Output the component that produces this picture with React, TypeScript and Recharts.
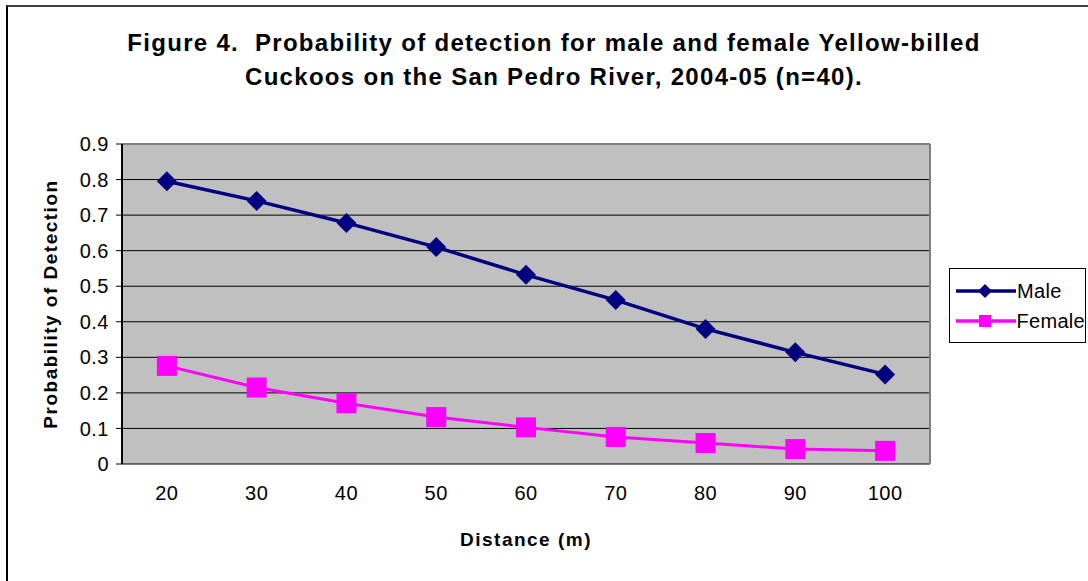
import {
  LineChart,
  Line,
  XAxis,
  YAxis,
  CartesianGrid,
  ReferenceLine,
  Label,
} from "recharts";

const distances = [20, 30, 40, 50, 60, 70, 80, 90, 100];
const male = [0.795, 0.74, 0.678, 0.61, 0.532, 0.461, 0.38, 0.314, 0.252];
const female = [0.276, 0.215, 0.171, 0.132, 0.103, 0.076, 0.059, 0.042, 0.037];
const yTicks = [0, 0.1, 0.2, 0.3, 0.4, 0.5, 0.6, 0.7, 0.8, 0.9];
// Excel puts the category tick marks between the categories
const boundaryTicks = [15, 25, 35, 45, 55, 65, 75, 85, 95, 105];

const data = distances.map((d, i) => ({
  distance: d,
  Male: male[i],
  Female: female[i],
}));

const FONT = '"Liberation Sans", Arial, sans-serif';
const MALE_COLOR = "#000080";
const FEMALE_COLOR = "#FF00FF";

const tickStyle = { fill: "#000", fontSize: 20, fontFamily: FONT, letterSpacing: 0.5 };
const labelStyle = {
  fill: "#000",
  fontSize: 19,
  fontWeight: "bold",
  fontFamily: FONT,
  letterSpacing: 1.5,
};

function Diamond(props: any) {
  const { cx, cy } = props;
  if (cx == null || cy == null) return null;
  const r = 10;
  return (
    <path
      d={`M${cx},${cy - r} L${cx + r},${cy} L${cx},${cy + r} L${cx - r},${cy} Z`}
      fill={MALE_COLOR}
    />
  );
}

function Square(props: any) {
  const { cx, cy } = props;
  if (cx == null || cy == null) return null;
  const r = 10;
  return <rect x={cx - r} y={cy - r} width={2 * r} height={2 * r} fill={FEMALE_COLOR} />;
}

function LegendBox() {
  const rows = [
    { name: "Male", color: MALE_COLOR, shape: "diamond" },
    { name: "Female", color: FEMALE_COLOR, shape: "square" },
  ];
  return (
    <div
      style={{
        position: "absolute",
        left: 949,
        top: 268,
        width: 137,
        height: 75,
        border: "1px solid #000",
        background: "#fff",
        boxSizing: "border-box",
        fontFamily: FONT,
        fontSize: 20,
        letterSpacing: 0.3,
        color: "#000",
        paddingTop: 7,
      }}
    >
      {rows.map((r) => (
        <div key={r.name} style={{ display: "flex", alignItems: "center", height: 30 }}>
          <svg width={64} height={20} style={{ marginLeft: 6 }}>
            <line x1={0} y1={10} x2={60} y2={10} stroke={r.color} strokeWidth={3.5} />
            {r.shape === "diamond" ? (
              <path d="M29,3 L36,10 L29,17 L22,10 Z" fill={r.color} />
            ) : (
              <rect x={23} y={4} width={12} height={12} fill={r.color} />
            )}
          </svg>
          <span style={{ marginLeft: -3 }}>{r.name}</span>
        </div>
      ))}
    </div>
  );
}

export default function App() {
  return (
    <div
      style={{
        position: "absolute",
        left: 0,
        top: 0,
        width: 1088,
        height: 581,
        background: "#fff",
        overflow: "hidden",
      }}
    >
      <div
        style={{
          position: "absolute",
          left: 6,
          top: 5,
          width: 1100,
          height: 600,
          borderTop: "2px solid #404040",
          borderLeft: "2px solid #000",
        }}
      />
      <div
        style={{
          position: "absolute",
          left: 0,
          top: 26,
          width: 1108,
          textAlign: "center",
          fontFamily: FONT,
          fontWeight: "bold",
          fontSize: 24,
          letterSpacing: 1.3,
          lineHeight: "34px",
          color: "#000",
          whiteSpace: "pre",
        }}
      >
        {"Figure 4.  Probability of detection for male and female Yellow-billed\nCuckoos on the San Pedro River, 2004-05 (n=40)."}
      </div>
      <LineChart
        width={1088}
        height={581}
        data={data}
        margin={{ top: 144, right: 158, bottom: 20, left: 52 }}
        style={{ position: "absolute", left: 0, top: 0 }}
      >
        <CartesianGrid
          xAxisId="b"
          vertical={false}
          fill="#C0C0C0"
          fillOpacity={1}
          stroke="#000"
          strokeWidth={1}
        />
        <XAxis
          xAxisId="b"
          dataKey="distance"
          type="number"
          domain={[15, 105]}
          ticks={boundaryTicks}
          tick={false}
          tickSize={6}
          height={0}
          axisLine={{ stroke: "#000", strokeWidth: 2 }}
          tickLine={{ stroke: "#000" }}
        />
        <XAxis
          xAxisId="lbl"
          dataKey="distance"
          type="number"
          domain={[15, 105]}
          ticks={distances}
          axisLine={false}
          tickLine={false}
          tickSize={0}
          tickMargin={22}
          height={97}
          tick={tickStyle}
        >
          <Label value="Distance (m)" position="insideBottom" offset={15} style={labelStyle} />
        </XAxis>
        <YAxis
          domain={[0, 0.9]}
          ticks={yTicks}
          width={70}
          tickSize={6}
          tickMargin={7}
          axisLine={{ stroke: "#000", strokeWidth: 2 }}
          tickLine={{ stroke: "#000" }}
          tick={tickStyle}
        >
          <Label
            value="Probability of Detection"
            angle={-90}
            position="insideLeft"
            offset={-2}
            style={{ ...labelStyle, textAnchor: "middle" }}
          />
        </YAxis>
        <ReferenceLine xAxisId="b" y={0.9} stroke="#808080" strokeWidth={2} />
        <ReferenceLine xAxisId="b" x={105} stroke="#808080" strokeWidth={2} />
        <Line
          xAxisId="b"
          type="linear"
          dataKey="Male"
          stroke={MALE_COLOR}
          strokeWidth={3.5}
          dot={<Diamond />}
          activeDot={false}
          isAnimationActive={false}
        />
        <Line
          xAxisId="b"
          type="linear"
          dataKey="Female"
          stroke={FEMALE_COLOR}
          strokeWidth={3}
          dot={<Square />}
          activeDot={false}
          isAnimationActive={false}
        />
      </LineChart>
      <LegendBox />
    </div>
  );
}
